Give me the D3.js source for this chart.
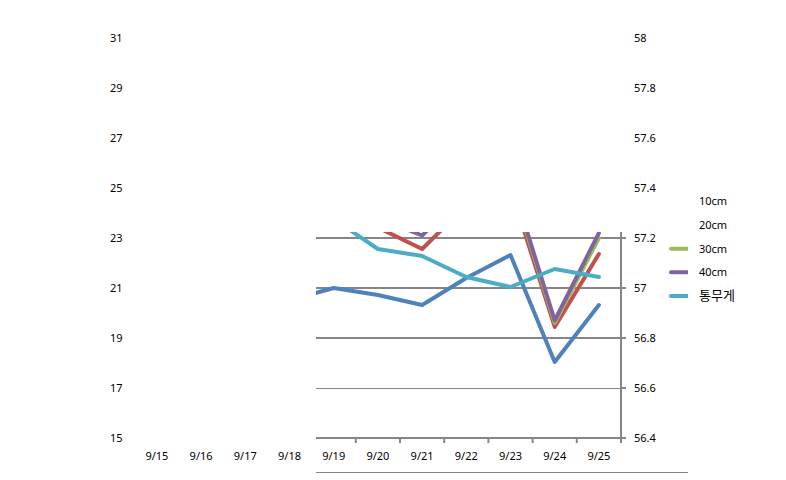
<!DOCTYPE html>
<html><head><meta charset="utf-8">
<script src="https://cdn.jsdelivr.net/npm/d3@7"></script>
<style>
html,body{margin:0;padding:0;background:#fff;}
svg text{font-family:"Noto Sans","Noto Sans CJK KR",sans-serif;font-size:11px;fill:#000;}
</style></head>
<body><svg id="c" width="786" height="480"></svg>
<script>
const dates = ["9/15","9/16","9/17","9/18","9/19","9/20","9/21","9/22","9/23","9/24","9/25"];
const t10 = [21.8, 21.5, 21.0, 20.51, 21.0, 20.72, 20.32, 21.4, 22.32, 18.04, 20.32];
const t20 = [24.6, 24.4, 24.0, 23.9, 23.7, 23.42, 22.56, 24.3, 25.0, 19.44, 22.36];
const t30 = [24.8, 24.6, 24.2, 24.0, 23.9, 23.7, 23.4, 24.6, 25.3, 19.6, 23.0];
const t40 = [24.9, 24.7, 24.3, 24.1, 24.0, 23.8, 23.1, 24.8, 25.4, 19.7, 23.2];
const weight = [57.4, 57.38, 57.35, 57.32, 57.276, 57.156, 57.128, 57.044, 57.004, 57.076, 57.044];
const leftTicks = [15, 17, 19, 21, 23, 25, 27, 29, 31];
const rightTicks = [56.4, 56.6, 56.8, 57, 57.2, 57.4, 57.6, 57.8, 58];
const seriesNames = ["10cm", "20cm", "30cm", "40cm", "통무게"];
const colors = ["#4F81BD", "#C0504D", "#9BBB59", "#8064A2", "#4BACC6"];

const svg = d3.select("#c");
const x = d3.scaleBand().domain(dates).range([134.8, 621]);
const yL = d3.scaleLinear().domain([15, 31]).range([438, 38]);
const yR = d3.scaleLinear().domain([56.4, 58]).range([438, 38]);

svg.append("defs").append("clipPath").attr("id", "clip")
  .append("rect").attr("x", 316).attr("y", 232).attr("width", 372).attr("height", 242);

const g = svg.append("g").attr("clip-path", "url(#clip)");
const grid = "#868686";

// gridlines
g.selectAll(".grid").data(rightTicks).join("line")
  .attr("x1", 134.8).attr("x2", 621)
  .attr("y1", d => yR(d) + (Math.abs(d - 56.6) < 1e-6 ? 0.5 : 0))
  .attr("y2", d => yR(d) + (Math.abs(d - 56.6) < 1e-6 ? 0.5 : 0))
  .attr("stroke", grid).attr("stroke-width", d => Math.abs(d - 56.6) < 1e-6 ? 1 : 2);

// bottom axis
g.append("line").attr("x1", 134.8).attr("x2", 621).attr("y1", 438).attr("y2", 438)
  .attr("stroke", grid).attr("stroke-width", 2);
const bounds = dates.map(d => x(d) + x.bandwidth());
g.selectAll(".bt").data(bounds).join("line")
  .attr("x1", d => d).attr("x2", d => d).attr("y1", 438).attr("y2", 443)
  .attr("stroke", grid).attr("stroke-width", 2);

// right axis
g.append("line").attr("x1", 621).attr("x2", 621).attr("y1", 38).attr("y2", 443)
  .attr("stroke", grid).attr("stroke-width", 2);
g.selectAll(".rt").data(rightTicks).join("line")
  .attr("x1", 621).attr("x2", 626).attr("y1", d => yR(d)).attr("y2", d => yR(d))
  .attr("stroke", grid).attr("stroke-width", 2);

// bottom border line
g.append("line").attr("x1", 316).attr("x2", 688).attr("y1", 472.5).attr("y2", 472.5)
  .attr("stroke", grid).attr("stroke-width", 1);

// series
const cx = d => x(d) + x.bandwidth() / 2;
const left = [t10, t20, t30, t40];
left.forEach((vals, i) => {
  const line = d3.line().x((v, j) => cx(dates[j])).y(v => yL(v));
  g.append("path").attr("d", line(vals)).attr("fill", "none")
    .attr("stroke", colors[i]).attr("stroke-width", 4).attr("stroke-linejoin", "round").attr("stroke-linecap", "round");
});
const lineR = d3.line().x((v, j) => cx(dates[j])).y(v => yR(v));
g.append("path").attr("d", lineR(weight)).attr("fill", "none")
  .attr("stroke", colors[4]).attr("stroke-width", 4).attr("stroke-linejoin", "round").attr("stroke-linecap", "round");

// legend swatches
const legY = i => 201.5 + i * 23.6;
g.selectAll(".ls").data(seriesNames).join("line")
  .attr("x1", 671).attr("x2", 690).attr("y1", (d, i) => legY(i)).attr("y2", (d, i) => legY(i))
  .attr("stroke", (d, i) => colors[i]).attr("stroke-width", 4).attr("stroke-linecap", "round");

// texts
svg.selectAll(".ll").data(leftTicks).join("text")
  .attr("x", 110).attr("y", d => yL(d)).attr("dy", "0.35em").text(d => d);
svg.selectAll(".rl").data(rightTicks).join("text")
  .attr("x", 634).attr("y", d => yR(d)).attr("dy", "0.35em").text(d => d);
svg.selectAll(".xl").data(dates).join("text")
  .attr("x", d => cx(d)).attr("y", 456).attr("dy", "0.35em").attr("text-anchor", "middle").text(d => d);
svg.selectAll(".lt").data(seriesNames).join("text")
  .attr("x", 699).attr("y", (d, i) => legY(i)).attr("dy", "0.35em")
  .style("font-size", (d, i) => i === 4 ? "13px" : "11px").text(d => d);
</script></body></html>
